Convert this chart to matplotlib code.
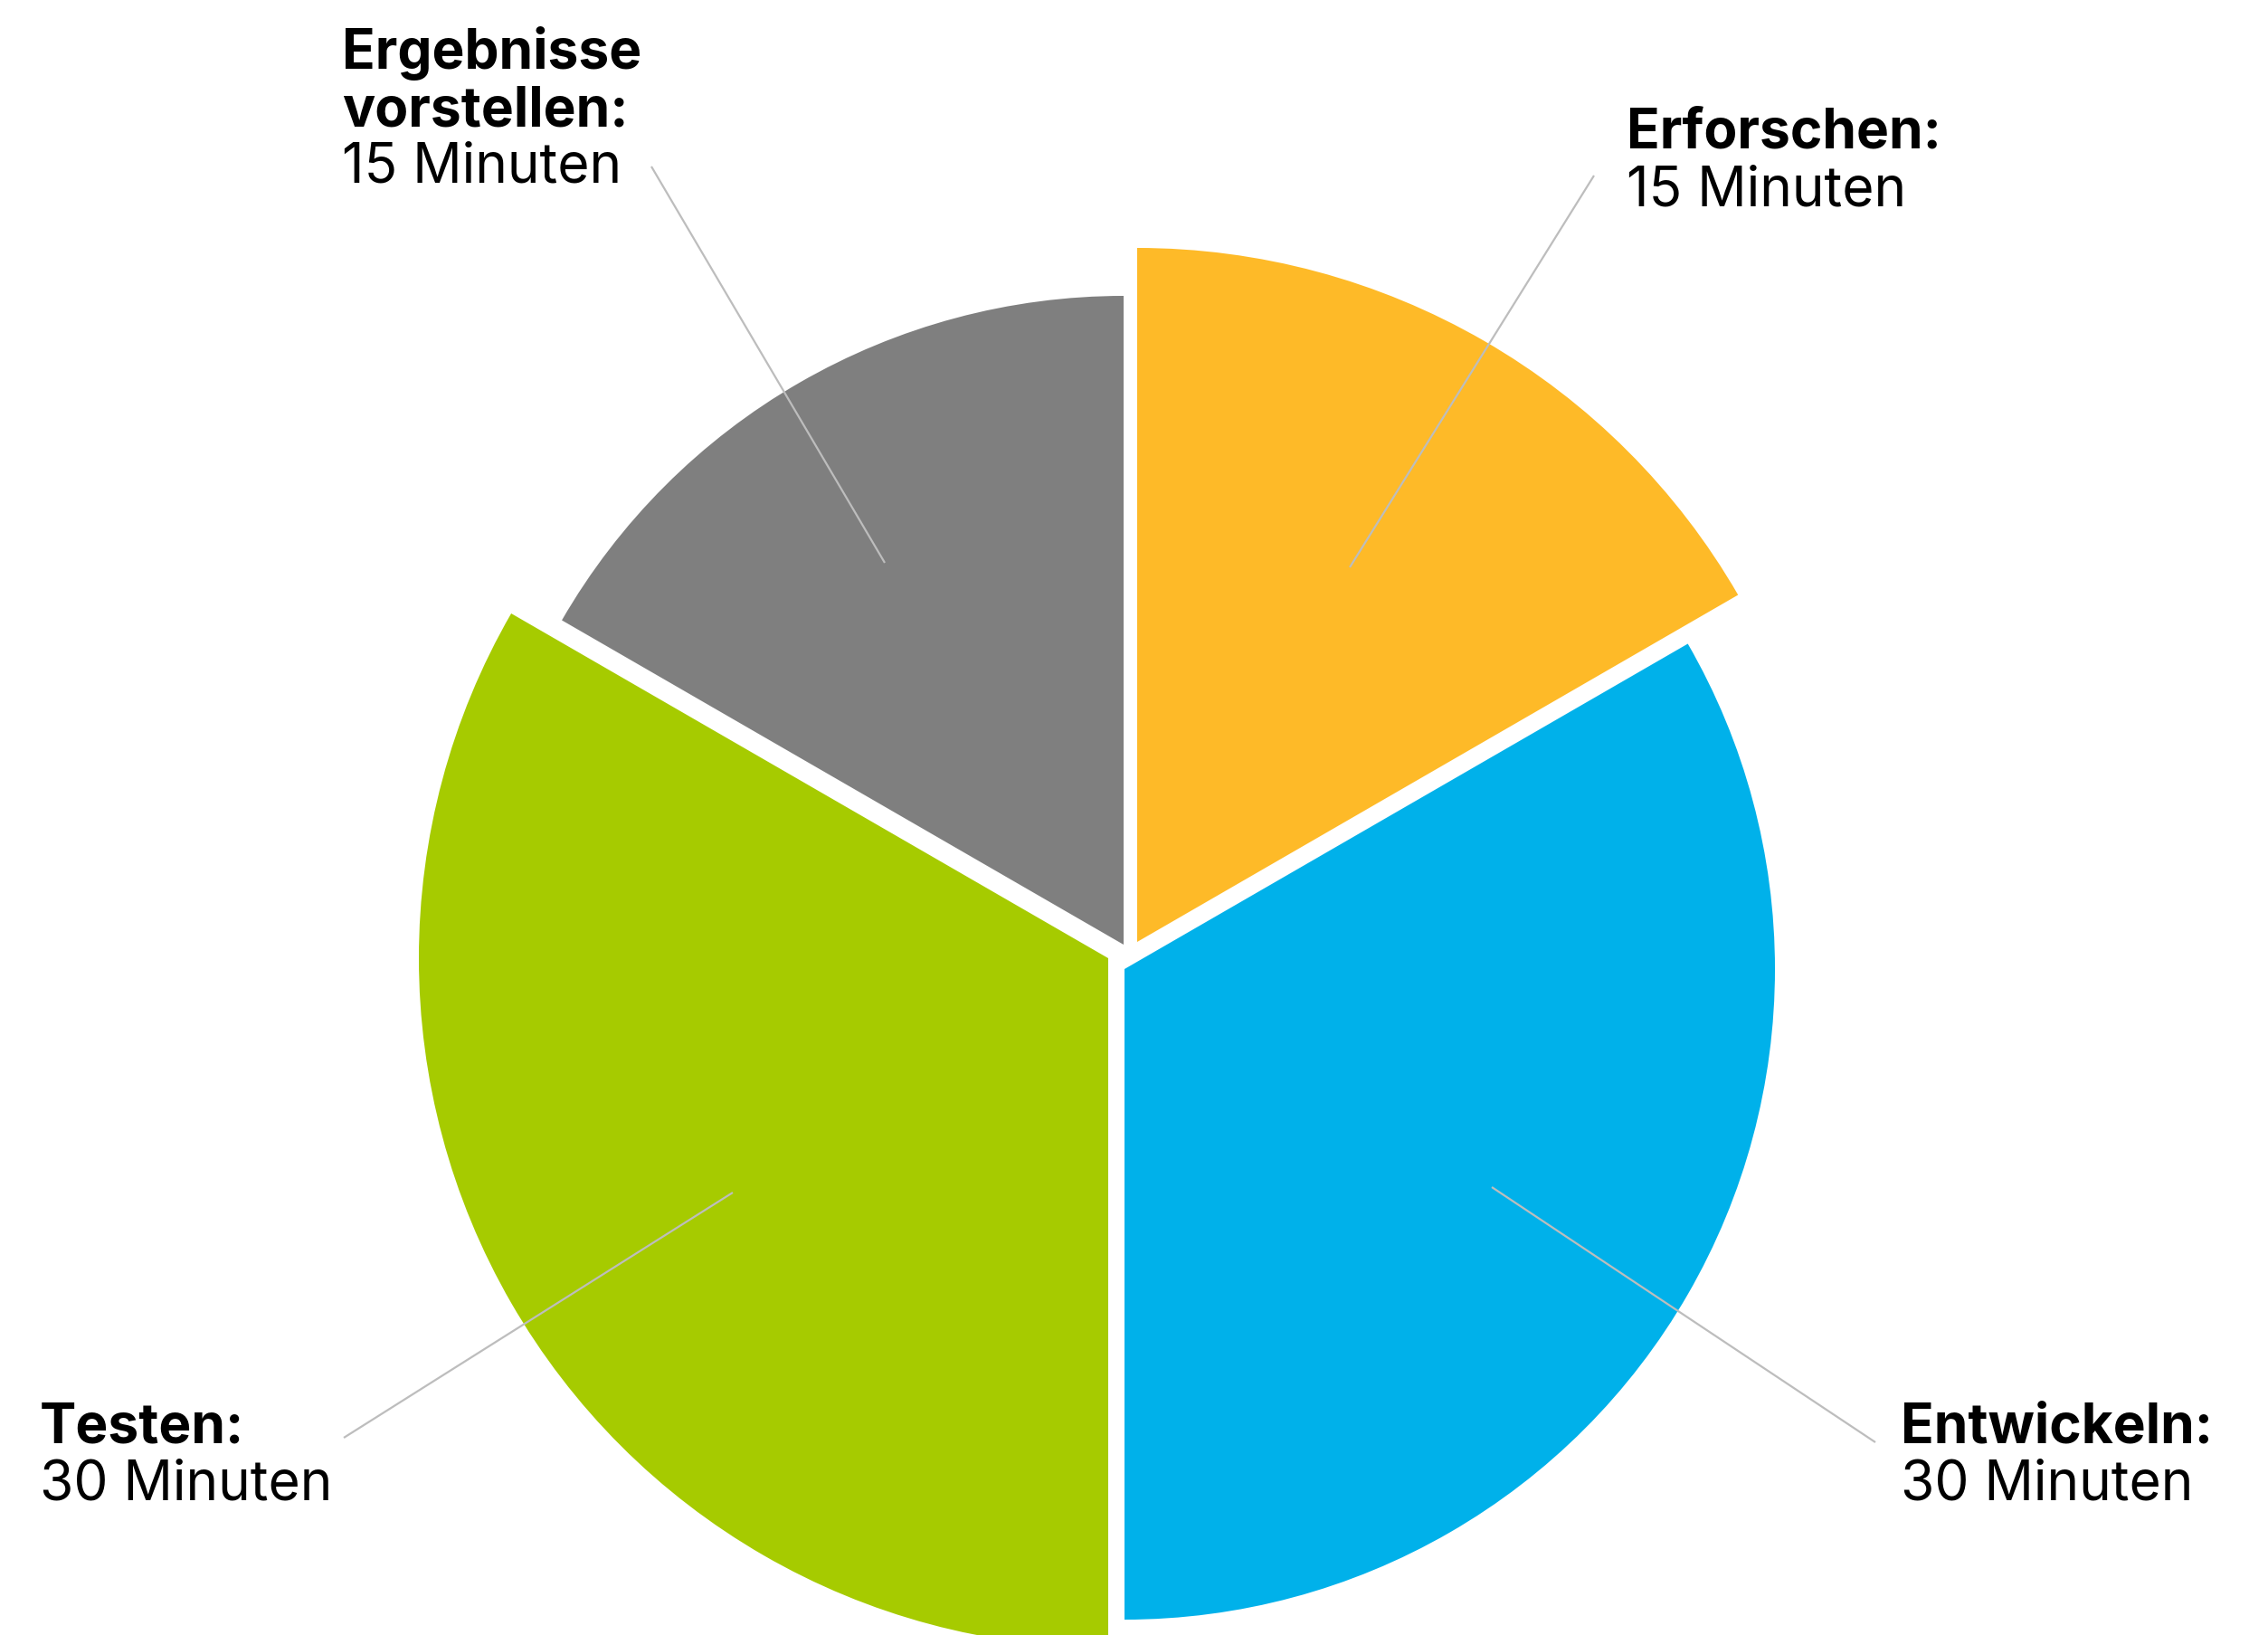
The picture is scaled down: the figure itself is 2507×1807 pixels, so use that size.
import matplotlib.pyplot as plt
from matplotlib.lines import Line2D

# data
phases = ["Erforschen", "Entwickeln", "Testen", "Ergebnisse\nvorstellen"]
minutes = [15, 30, 30, 15]
colors = ["#FEBA28", "#00B1EA", "#A6CB00", "#7F7F7F"]

W, H = 2507, 1808
plt.rcParams['font.family'] = ['Inter', 'DejaVu Sans']

fig = plt.figure(figsize=(W / 100, H / 100), dpi=100)
ax = fig.add_axes([0, 0, 1, 1])

wedges, _ = ax.pie(minutes, colors=colors, startangle=90, counterclock=False,
                   wedgeprops=dict(linewidth=0))

# each slice sits on its own apex with its own radius (pixel coords, image y down)
apex = [(1257, 1042), (1243, 1072), (1225, 1060), (1242, 1045)]
radius = [767, 719, 762, 717]
for w, (x, y), r in zip(wedges, apex, radius):
    w.set_center((x, H - y))
    w.set_radius(r)

ax.set_xlim(0, W)
ax.set_ylim(0, H)
ax.set_aspect('equal')
ax.axis('off')

# label positions: x, first baseline (image px), leader line start/end
label_pos = [(1798, 164), (2101, 1595), (44, 1595), (378, 76)]
leaders = [((1762, 195), (1492, 628)),
           ((2073, 1595), (1649, 1313)),
           ((380, 1590), (810, 1319)),
           ((720, 185), (978, 623))]
line_h = 63
fs = 43.5

for name, val, (x, y), (p0, p1) in zip(phases, minutes, label_pos, leaders):
    ax.add_line(Line2D([p0[0], p1[0]], [H - p0[1], H - p1[1]],
                       color="#BDBDBD", lw=1.6, solid_capstyle='butt'))
    rows = name.split("\n")
    for i, row in enumerate(rows):
        txt = row + (":" if i == len(rows) - 1 else "")
        ax.text(x, H - (y + i * line_h), txt, fontsize=fs, fontweight='bold',
                ha='left', va='baseline', color='black')
    ax.text(x, H - (y + len(rows) * line_h), f"{val} Minuten", fontsize=fs,
            ha='left', va='baseline', color='black')

fig.savefig("out.png", dpi=100, facecolor='white')
